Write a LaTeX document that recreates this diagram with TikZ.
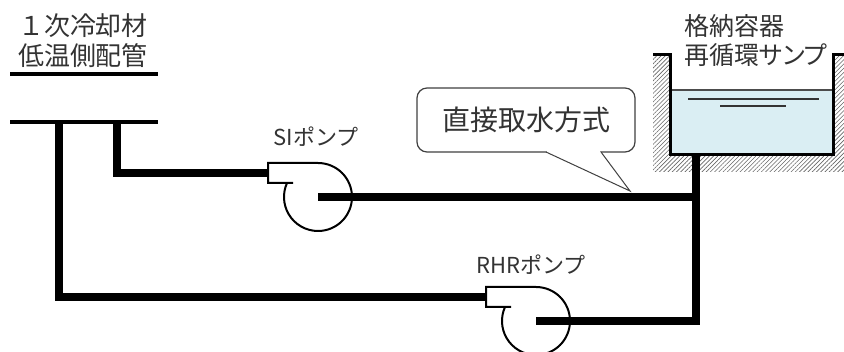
\documentclass[tikz,border=0pt]{standalone}
\usepackage{fontspec}
\newfontfamily\jp{Noto Sans CJK JP}
\newfontfamily\jpp[RawFeature=+palt]{Noto Sans CJK JP}
\usetikzlibrary{positioning,patterns.meta}
\definecolor{water}{HTML}{DAEEF3}

\begin{document}
\begin{tikzpicture}[x=1pt,y=-1pt,
 pipe/.style={line width=8.3pt,line join=miter},
 hdrline/.style={line width=4.3pt},
 pumpline/.style={line width=2pt},
 lbl/.style={font=\jp\fontsize{22}{26}\selectfont,text=black!80,inner sep=0pt},
 hdr/.style={font=\jp\fontsize{26}{30}\selectfont,text=black!80,inner sep=0pt},
 bubble/.style={draw=black!75,line width=1.2pt,rounded corners=10pt,fill=white,outer sep=0pt,
  minimum width=218pt,minimum height=64pt,font=\jp\fontsize{28}{32}\selectfont,text=black!80},
 pump/.pic={
  \coordinate (-c) at (0,0);
  \coordinate (-top) at (0,-34);
  \coordinate (-out) at (-50,-24);
  \draw[pumpline] (-25,-14) -- (-50,-14) -- (-50,-34) -- (0,-34) arc[start angle=-90,end angle=204,radius=34];
 }]
 \useasboundingbox (0,0) rectangle (844,352);
 % header pipe
 \node[hdr,align=center] (coolant) at (83,41) {１次冷却材\\低温側配管};
 \draw[hdrline] (10,74) -- (158,74);
 \draw[hdrline] (10,122) -- (158,122);
 \coordinate (tapA) at (59,122);
 \coordinate (tapB) at (117,122);
 % sump
 \fill[pattern={Lines[angle=45,distance=3pt,line width=0.6pt]},pattern color=black!60]
  (653,55) -- (670,55) -- (670,155) -- (833,155) -- (833,55) -- (844,55) -- (844,172) -- (653,172) -- cycle;
 \fill[water] (670,90) rectangle (833,155);
 \draw[black!70,line width=1.2pt] (670,90) -- (833,90);
 \draw[black!80,line width=1.3pt] (688,99) -- (819,99);
 \draw[black!80,line width=1.3pt] (720,106) -- (786,106);
 \draw[line width=3pt,line join=miter] (653,55) -- (670,55) -- (670,155) -- (833,155) -- (833,55) -- (844,55);
 \node[hdr,align=left,anchor=west,font=\jpp\fontsize{25}{29}\selectfont] (sump) at (684,41) {格納容器\\再循環サンプ};
 \coordinate (sumpOut) at (696,155);
 % pumps
 \pic (si) at (318,197) {pump};
 \pic (rhr) at (536,321) {pump};
 \node[lbl,above=16pt of si-top,xshift=-2pt] (siname) {SIポンプ};
 \node[lbl,above=12pt of rhr-top,xshift=-5pt] (rhrname) {RHRポンプ};
 % piping
 \draw[pipe] (tapB) |- (si-out);
 \draw[pipe] (tapA) |- (rhr-out);
 \draw[pipe] (si-c) -- (si-c -| sumpOut);
 \draw[pipe] (sumpOut) |- (rhr-c);
 % callout
 \node[bubble] (direct) at (526,120) {直接取水方式};
 \coordinate (tip) at (630,191);
 \draw[white,line width=1.6pt] ([xshift=20.8pt]direct.south) -- ([xshift=74.2pt]direct.south);
 \draw[black!75,line width=1pt,fill=white,line join=miter] ([xshift=20pt]direct.south) -- (tip) -- ([xshift=75pt]direct.south);
\end{tikzpicture}
\end{document}
